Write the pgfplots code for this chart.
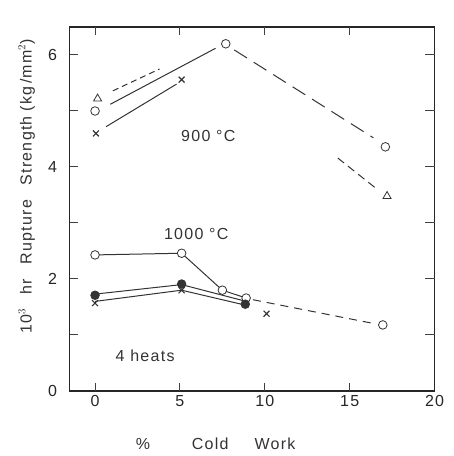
\documentclass[border=0pt]{standalone}
\usepackage{fontspec}
\setmainfont{Liberation Sans}[LetterSpace=8]
\usepackage{pgfplots}
\pgfplotsset{compat=1.18}
\definecolor{ink}{HTML}{333333}
\begin{document}
\newcommand{\ff}{\fontsize{16}{18}\selectfont}
\begin{tikzpicture}
\begin{axis}[
  scale only axis, width=365pt, height=364pt,
  xmin=-1.5, xmax=20, ymin=0, ymax=6.5,
  xtick={0,5,10,15,20}, ytick={0,2,4,6},
  tickwidth=0pt, subtickwidth=0pt,
  axis line style={line width=1.3pt, black!85},
  /pgf/number format/assume math mode=true,
  tick label style={font=\ff, black!85},
  xticklabel style={yshift=-1pt},
  yticklabel style={xshift=-9pt},
  clip=false,
]
\coordinate (sw) at (rel axis cs:0,0);
\coordinate (ne) at (rel axis cs:1,1);
% ---------- tick marks (inward) ----------
\pgfplotsinvokeforeach{0,5,10,15}{
  \draw[black!75, line width=1pt] (axis cs:#1,0) -- ([yshift=8pt]axis cs:#1,0);
  \draw[black!75, line width=1pt] (axis cs:#1,6.5) -- ([yshift=-8pt]axis cs:#1,6.5);
}
\pgfplotsinvokeforeach{1,2,3,4,5,6}{
  \draw[black!75, line width=1pt] (axis cs:-1.5,#1) -- ([xshift=8pt]axis cs:-1.5,#1);
  \draw[black!75, line width=1pt] (axis cs:20,#1) -- ([xshift=-10pt]axis cs:20,#1);
}
% ---------- 900 C ----------
\addplot[ink, line width=1pt] coordinates {(0.9,5.12) (7.1,6.12)};
\addplot[ink, line width=1pt] coordinates {(0.65,4.72) (4.8,5.48)};
\addplot[ink, line width=1pt, dash pattern=on 6pt off 4pt] coordinates {(1.05,5.36) (3.8,5.75)};
\addplot[ink, line width=1pt, dash pattern=on 15pt off 8pt] coordinates {(8.2,6.09) (16.4,4.52)};
\addplot[ink, line width=1pt, dash pattern=on 8pt off 5pt] coordinates {(14.3,4.16) (16.5,3.63)};
\addplot[only marks, ink, mark=o, mark size=4.3pt, mark options={line width=0.8pt}] coordinates {(0,5.0) (7.7,6.2) (17.1,4.36)};
\addplot[only marks, ink, mark=triangle, mark size=4.6pt, mark options={line width=0.8pt}] coordinates {(0.15,5.22) (17.2,3.48)};
\addplot[only marks, ink, mark=x, mark size=4.2pt, mark options={line width=1.1pt}] coordinates {(0.05,4.6) (5.1,5.56)};
% ---------- 1000 C ----------
\addplot[ink, line width=1pt] coordinates {(0,2.43) (5.1,2.46) (7.5,1.8) (8.9,1.66)};
\addplot[ink, line width=1pt] coordinates {(0,1.73) (5.1,1.9) (8.9,1.6)};
\addplot[ink, line width=1pt] coordinates {(0,1.6) (5.1,1.8) (8.9,1.53)};
\addplot[ink, line width=1pt, dash pattern=on 8pt off 6pt] coordinates {(9.3,1.63) (16.5,1.2)};
\addplot[only marks, ink, mark=*, mark size=4.3pt, mark options={fill=white, line width=0.8pt}] coordinates {(0,2.43) (5.1,2.46) (7.5,1.8) (8.9,1.66) (16.95,1.18)};
\addplot[only marks, ink, mark=x, mark size=4.2pt, mark options={line width=1.1pt}] coordinates {(0,1.57) (5.1,1.8) (10.1,1.38)};
\addplot[only marks, ink, mark=*, mark size=4.3pt, mark options={fill=ink, line width=0.8pt}] coordinates {(0,1.71) (5.1,1.91) (8.85,1.55)};
% ---------- text ----------
\node[font=\ff, ink] at (axis cs:6.67,4.55) {900 °C};
\node[font=\ff, ink] at (axis cs:5.96,2.8) {1000 °C};
\node[font=\ff, ink] at (axis cs:2.95,0.63) {4 heats};
\node[font=\ff, ink] at (axis cs:2.83,-0.95) {\%};
\node[font=\ff, ink] at (axis cs:6.78,-0.95) {Cold};
\node[font=\ff, ink] at (axis cs:10.6,-0.95) {Work};
\node[font=\ff, ink, rotate=90] at ([xshift=-43pt]rel axis cs:0,0.562) {10$^{3}$\hspace{0.9em}hr\hspace{0.9em}Rupture\hspace{0.9em}Strength\hspace{0.3em}(kg\,/mm$^{2}$)};
\end{axis}
\pgfresetboundingbox
\path[use as bounding box] ([xshift=-66pt,yshift=-65pt]sw) rectangle ([xshift=19pt,yshift=27pt]ne);
\end{tikzpicture}
\end{document}
